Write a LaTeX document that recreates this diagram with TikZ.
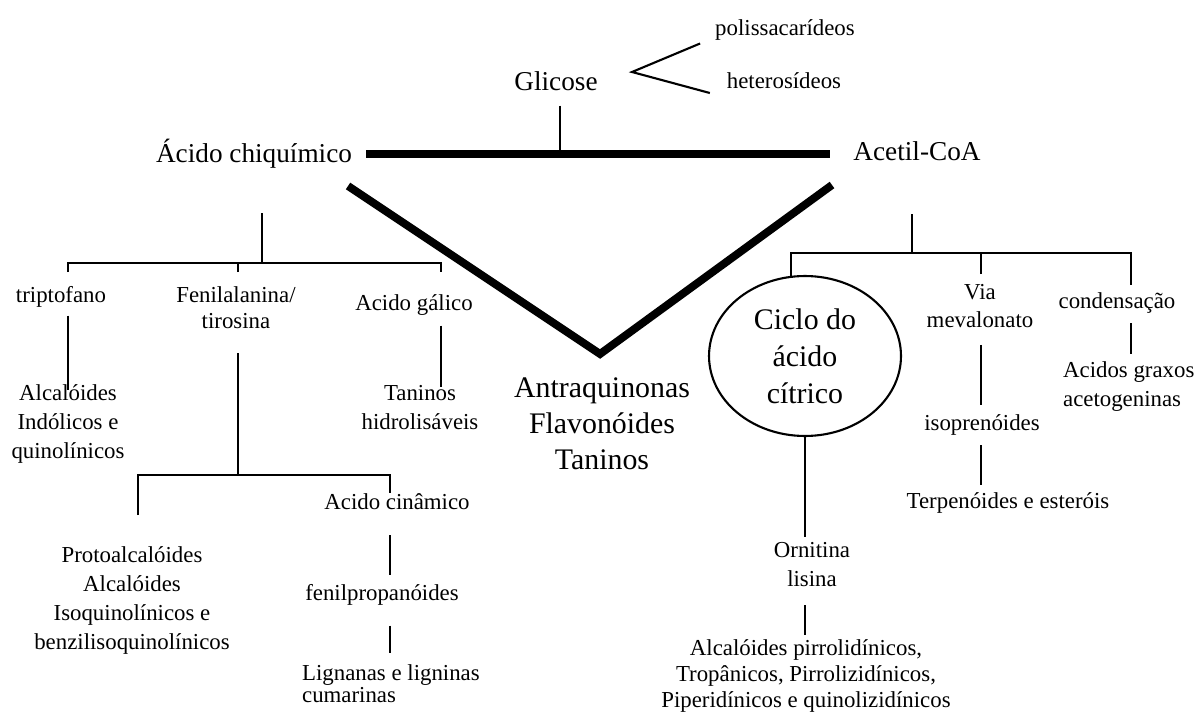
\documentclass[tikz,border=0pt]{standalone}
\usepackage{fontspec}
\setmainfont{Liberation Serif}
\usetikzlibrary{shapes,positioning,calc}

\begin{document}
\begin{tikzpicture}[x=0.02cm, y=-0.02cm]
	\tikzset{
	  basic/.style = {font=\fontsize{13}{16.5}\selectfont, align=center, inner sep=1pt},
	  root/.style  = {basic, font=\fontsize{15.5}{18}\selectfont},
	  group/.style = {basic, font=\fontsize{17}{20.5}\selectfont},
	  link/.style  = {draw, line width=1.2pt},
	  heavy/.style = {draw, line width=4.5pt}
	}
	\path[use as bounding box, fill=white] (0,0) rectangle (1199,713);

	% Glicose and the two precursors
	\node[root] (glic) at (556,81) {Glicose};
	\node[basic] (poli) at (785,30) {polissacarídeos};
	\node[basic] (het) at (784,81) {heterosídeos};
	\node[root] (chiq) at (254,154) {Ácido chiquímico};
	\node[root] (acet) at (917,151) {Acetil-CoA};
	\node[group] (antr) at (602,424) {Antraquinonas\\Flavonóides\\Taninos};

	% Ácido chiquímico branch
	\node[basic] (trip) at (61,297) {triptofano};
	\node[basic, font=\fontsize{13}{14.8}\selectfont] (fenil) at (236,308) {Fenilalanina/\\tirosina};
	\node[basic] (gal) at (414,305) {Acido gálico};
	\node[basic] (alcind) at (68,424) {Alcalóides\\Indólicos e\\quinolínicos};
	\node[basic] (tanh) at (420,408) {Taninos\\hidrolisáveis};
	\node[basic] (proto) at (132,600) {Protoalcalóides\\Alcalóides\\Isoquinolínicos e\\benzilisoquinolínicos};
	\node[basic] (cin) at (397,502) {Acido cinâmico};
	\node[basic] (fpp) at (382,595) {fenilpropanóides};
	\node[basic, align=left, anchor=west, font=\fontsize{13}{11.4}\selectfont] (lign) at (300,684) {Lignanas e ligninas\\cumarinas};

	% Acetil-CoA branch
	\node[group, ellipse, link, font=\fontsize{17}{21}\selectfont, minimum width=3.84cm,
	      minimum height=3.2cm, inner sep=0pt] (ciclo) at (805,356) {Ciclo do\\ácido\\cítrico};
	\node[basic, font=\fontsize{13}{16}\selectfont] (via) at (980,306) {Via\\mevalonato};
	\node[basic] (cond) at (1117,303) {condensação};
	\node[basic, align=left, anchor=west] (agr) at (1061,387) {Acidos graxos\\acetogeninas};
	\node[basic] (iso) at (982,425) {isoprenóides};
	\node[basic] (terp) at (1008,503) {Terpenóides e esteróis};
	\node[basic] (orn) at (812,565) {Ornitina\\lisina};
	\node[basic, font=\fontsize{13}{14.8}\selectfont] (apirr) at (806,676) {Alcalóides pirrolidínicos,\\Tropânicos, Pirrolizidínicos,\\Piperidínicos e quinolizidínicos};

	% top part
	\coordinate (barM) at (560,154);
	\coordinate (fk) at (632,72);
	\coordinate (vL) at (348,186);
	\coordinate (vtip) at (600,354);
	\coordinate (vR) at (832,185);
	\draw[link] ([shift={(-13,1)}]poli.south west) -- (fk) -- ([shift={(-15,12)}]het.west);
	\draw[heavy, shorten <=0.24cm, shorten >=0.43cm] (chiq.east) -- (chiq.east -| acet.west);
	\draw[link, shorten <=0.26cm] (glic.south -| barM) -- (barM);
	\draw[heavy] (vL) -- (vtip) -- (vR);

	% left tree
	\coordinate (lj) at (262,263);
	\coordinate (lj1) at (68,272);
	\coordinate (lj2) at (238,272);
	\coordinate (lj3) at (441,272);
	\draw[link] (lj) -- ++(0,-50);
	\draw[link] (lj1) |- (lj3 |- lj) -- (lj3);
	\draw[link] (lj2) -- (lj2 |- lj);
	\draw[link, shorten <=0.12cm, shorten >=-0.15cm] (lj1 |- trip.south) -- (lj1 |- alcind.north);
	\draw[link, shorten <=0.16cm, shorten >=-0.06cm] (lj3 |- gal.south) -- (lj3 |- tanh.north);
	\coordinate (fj) at (238,475);
	\coordinate (fj1) at (138,515);
	\coordinate (fj2) at (390,493);
	\draw[link, shorten <=0.44cm] (fj |- fenil.south) -- (fj);
	\draw[link] (fj1) |- (fj2 |- fj) -- (fj2);
	\draw[link, shorten <=0.46cm, shorten >=0.15cm] (fj2 |- cin.south) -- (fj2 |- fpp.north);
	\draw[link, shorten <=0.36cm, shorten >=0.19cm] (fj2 |- fpp.south) -- (fj2 |- lign.north);

	% right tree
	\coordinate (rj) at (912,253);
	\coordinate (rj1) at (791,277);
	\coordinate (rj2) at (981,274);
	\coordinate (rj3) at (1131,285);
	\draw[link] (rj) -- ++(0,-39);
	\draw[link] (rj1) |- (rj3 |- rj) -- (rj3);
	\draw[link] (rj2) -- (rj2 |- rj);
	\draw[link, shorten <=0.3cm, shorten >=0.15cm] (rj2 |- via.south) -- (rj2 |- iso.north);
	\draw[link, shorten <=0.16cm, shorten >=0.11cm] (rj2 |- iso.south) -- (rj2 |- terp.north);
	\draw[link, shorten <=0.16cm, shorten >=0.13cm] (rj3 |- cond.south) -- (rj3 |- agr.north);
	\draw[link, shorten >=0.07cm] (ciclo.south) -- (ciclo.south |- orn.north);
	\draw[link, shorten <=0.32cm, shorten >=0.05cm] (ciclo.south |- orn.south) -- (ciclo.south |- apirr.north);
\end{tikzpicture}
\end{document}
